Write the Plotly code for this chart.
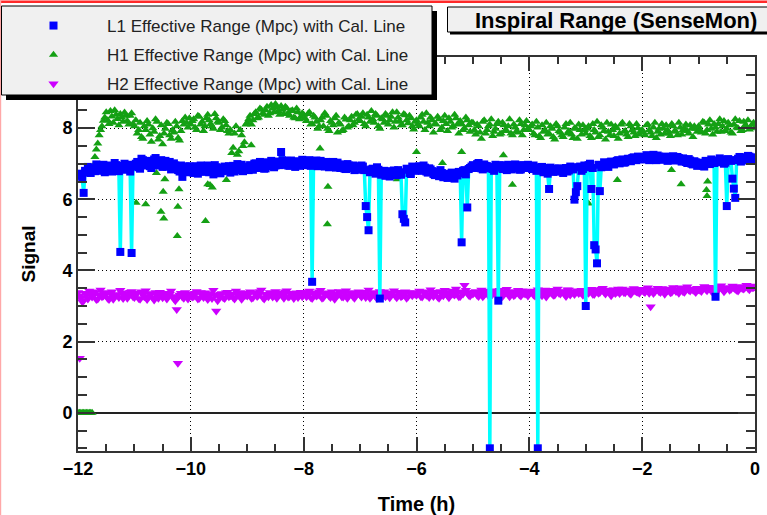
import numpy as np
import plotly.graph_objects as go

# ---------------- data ----------------
# sample times (h): main samples every 0.05 h, secondary samples in between
TIME_A = np.round(np.arange(-12.0, 0.0001, 0.05), 3)
TIME_B = np.round(np.arange(-11.975, 0.0, 0.05), 3)

L1_A = [
    6.66, 6.72, 6.18, 6.75, 6.82, 6.88, 6.79, 6.93, 6.85, 6.97, 6.84, 6.91, 6.78, 7.02, 6.88, 4.52, 6.94, 6.83, 6.97, 4.49,
    6.92, 7.05, 6.86, 7.10, 6.95, 7.02, 6.88, 7.12, 6.98, 7.06, 6.91, 7.08, 6.96, 6.84, 7.01, 6.89, 6.78, 6.63, 6.92, 6.80,
    6.86, 6.74, 6.93, 6.81, 6.88, 6.77, 6.95, 6.83, 6.70, 6.90, 6.84, 6.79, 6.92, 6.86, 6.75, 6.94, 6.88, 6.82, 6.97, 6.85,
    6.89, 6.96, 6.83, 7.01, 6.90, 6.98, 6.86, 7.04, 6.93, 6.99, 6.95, 7.06, 7.33, 6.97, 7.08, 6.94, 7.03, 6.91, 7.07, 7.00,
    7.04, 6.96, 7.10, 3.68, 7.02, 6.93, 7.08, 6.98, 7.05, 6.90, 6.99, 6.94, 7.03, 6.88, 6.97, 6.85, 6.95, 6.90, 6.82, 6.93,
    6.86, 6.92, 5.81, 5.13, 6.84, 6.78, 6.90, 3.21, 6.74, 6.66, 6.79, 6.70, 6.81, 6.68, 6.76, 5.58, 5.35, 6.83, 6.71, 6.88,
    6.86, 6.93, 6.80, 6.89, 6.75, 6.84, 6.71, 6.78, 6.65, 6.74, 6.68, 6.60, 6.72, 6.63, 6.70, 6.77, 4.79, 6.82, 5.77, 6.88,
    6.96, 6.90, 7.02, 6.87, 6.98, 6.93, -1.00, 6.85, 6.97, 3.15, 6.89, 6.95, 6.82, 6.92, 6.86, 6.98, 6.90, 6.84, 6.95, 6.88,
    6.93, 6.85, 6.90, -1.00, 6.82, 6.76, 6.88, 6.29, 6.80, 6.86, 6.78, 6.84, 6.74, 6.88, 6.81, 6.90, 5.99, 6.37, 6.92, 6.85,
    3.00, 6.96, 6.29, 4.71, 4.20, 6.23, 6.95, 7.02, 6.91, 7.06, 6.98, 7.08, 7.01, 7.12, 7.04, 7.14, 7.07, 7.18, 7.10, 7.15,
    7.19, 7.12, 7.22, 7.15, 7.25, 7.10, 7.20, 7.13, 7.17, 7.08, 7.15, 7.21, 7.11, 7.16, 7.06, 7.12, 7.02, 7.09, 6.98, 7.04,
    6.96, 7.03, 6.92, 7.06, 6.99, 7.08, 3.26, 7.04, 7.12, 7.00, 5.81, 7.10, 6.58, 6.04, 7.14, 7.06, 7.18, 7.09, 7.20, 7.12,
    7.15,
]
L1_B = [
    6.70, 6.58, 6.80, 6.91, 6.74, 6.86, 6.98, 6.80, 6.92, 6.76, 6.95, 6.87, 6.81, 6.96, 6.79, 6.90, 7.00, 6.86, 6.78, 6.95,
    7.00, 6.90, 7.14, 6.97, 7.08, 6.93, 7.04, 7.16, 6.95, 7.10, 7.00, 6.92, 7.05, 6.90, 6.95, 6.82, 6.95, 6.85, 6.76, 6.93,
    6.78, 6.90, 6.72, 6.95, 6.85, 6.91, 6.76, 6.88, 6.96, 6.80, 6.73, 6.89, 6.80, 6.93, 6.84, 6.78, 6.99, 6.87, 6.79, 6.92,
    6.82, 6.93, 7.00, 6.88, 7.05, 6.94, 6.87, 6.99, 7.08, 6.90, 7.02, 6.96, 7.10, 7.02, 6.95, 7.09, 6.97, 7.05, 6.94, 7.11,
    6.99, 7.07, 6.94, 7.00, 7.09, 6.97, 7.03, 6.92, 7.01, 6.96, 7.05, 6.89, 6.98, 6.93, 6.86, 6.99, 6.87, 6.95, 6.89, 6.83,
    6.95, 6.82, 5.50, 6.76, 6.86, 6.72, 6.83, 6.69, 6.80, 6.75, 6.64, 6.77, 6.73, 6.82, 6.69, 5.45, 6.86, 6.74, 6.92, 6.80,
    6.90, 6.82, 6.95, 6.78, 6.87, 6.79, 6.68, 6.73, 6.82, 6.62, 6.71, 6.66, 6.75, 6.58, 6.67, 6.73, 6.80, 6.70, 6.85, 6.92,
    6.88, 6.99, 6.92, 6.84, 6.94, 6.87, 6.91, 6.80, 6.90, 6.96, 6.85, 6.91, 6.97, 6.84, 6.93, 6.88, 6.83, 6.96, 6.90, 6.97,
    6.88, 6.95, 6.80, 6.86, 6.91, 6.83, 6.72, 6.89, 6.77, 6.83, 6.87, 6.79, 6.85, 6.78, 6.92, 6.84, 6.20, 6.90, 6.80, 6.95,
    6.90, 7.00, 6.88, 4.59, 6.97, 6.90, 7.04, 6.96, 7.03, 6.99, 7.05, 7.10, 7.06, 7.03, 7.11, 7.08, 7.16, 7.12, 7.20, 7.13,
    7.16, 7.24, 7.10, 7.19, 7.13, 7.23, 7.16, 7.11, 7.20, 7.14, 7.18, 7.09, 7.19, 7.10, 7.15, 7.05, 7.13, 7.00, 7.07, 6.94,
    7.01, 6.95, 7.08, 7.00, 7.12, 7.02, 7.09, 7.15, 7.06, 7.03, 7.13, 7.08, 6.30, 7.10, 7.19, 7.11, 7.16, 7.22, 7.14, 7.18,
]

H1_A = [
    0.00, 0.00, 0.00, 0.00, 0.00, 0.00, 7.19, 7.57, 7.95, 8.21, 8.45, 8.12, 8.33, 8.50, 8.26, 8.40, 8.18, 8.35, 8.10, 8.42,
    8.05, 7.85, 8.15, 7.70, 7.95, 8.10, 7.62, 7.90, 8.18, 7.78, 7.55, 7.98, 8.12, 7.70, 7.88, 8.05, 7.65, 8.20, 8.30, 8.02,
    8.10, 8.25, 7.95, 8.32, 8.18, 8.05, 8.38, 8.12, 7.98, 8.28, 8.15, 8.02, 8.20, 7.92, 7.95, 7.45, 8.05, 7.35, 7.80, 7.60,
    8.15, 8.35, 8.22, 8.45, 8.30, 8.52, 8.38, 8.60, 8.42, 8.55, 8.68, 8.48, 8.62, 8.40, 8.56, 8.35, 8.50, 8.28, 8.45, 8.32,
    8.38, 8.20, 8.45, 8.12, 8.30, 7.98, 8.22, 8.05, 8.35, 7.92, 8.15, 8.28, 7.88, 8.10, 7.95, 8.24, 8.05, 8.32, 8.15, 8.40,
    8.20, 8.42, 8.05, 8.30, 8.48, 8.15, 8.35, 7.98, 8.25, 8.40, 8.10, 8.32, 8.02, 8.45, 8.20, 8.08, 8.36, 8.14, 8.28, 7.96,
    8.22, 8.05, 8.38, 7.95, 8.15, 8.30, 7.88, 8.10, 8.25, 8.02, 8.35, 7.92, 8.18, 8.05, 8.28, 7.85, 8.12, 8.00, 8.22, 7.90,
    8.15, 7.82, 8.05, 7.70, 8.22, 7.95, 8.10, 7.78, 7.98, 8.18, 7.85, 8.08, 7.92, 8.25, 7.80, 8.02, 7.88, 8.12, 7.95, 8.20,
    7.95, 8.10, 7.80, 8.02, 7.72, 7.90, 8.15, 7.85, 7.98, 7.68, 8.05, 7.88, 7.75, 8.12, 7.92, 7.82, 8.00, 7.70, 7.95, 8.08,
    7.85, 8.05, 7.72, 7.95, 8.18, 7.80, 8.02, 7.68, 7.90, 8.10, 7.78, 8.00, 7.85, 8.15, 7.92, 7.75, 8.05, 7.88, 8.12, 7.82,
    7.95, 7.80, 8.10, 7.88, 8.02, 7.72, 7.98, 8.12, 7.85, 7.95, 7.78, 8.05, 7.90, 8.15, 7.82, 8.00, 7.92, 8.08, 7.75, 7.98,
    8.05, 7.88, 8.15, 7.95, 8.22, 7.82, 8.02, 8.12, 7.90, 8.20, 7.98, 8.08, 7.85, 8.25, 8.00, 7.92, 8.18, 8.05, 7.96, 8.10,
    8.02,
]
H1_B = [
    0.00, 0.00, 0.00, 0.00, 0.00, 6.95, 7.40, 7.80, 8.05, 8.30, 8.22, 8.48, 8.15, 8.38, 8.08, 8.30, 8.44, 8.20, 8.35, 8.12,
    8.22, 7.95, 7.75, 8.05, 8.20, 7.82, 8.00, 8.25, 7.68, 8.08, 7.85, 8.15, 7.80, 7.95, 8.18, 7.72, 7.92, 8.10, 8.15, 8.28,
    8.20, 8.02, 8.35, 8.10, 7.92, 8.28, 8.22, 8.05, 8.40, 8.18, 7.95, 8.25, 8.08, 7.85, 7.30, 7.85, 7.25, 7.95, 7.50, 8.10,
    8.25, 8.10, 8.40, 8.28, 8.55, 8.42, 8.50, 8.35, 8.65, 8.45, 8.58, 8.38, 8.52, 8.60, 8.42, 8.48, 8.30, 8.55, 8.25, 8.42,
    8.28, 8.40, 8.10, 8.35, 8.18, 8.05, 8.30, 8.42, 7.98, 8.20, 8.08, 8.35, 8.15, 7.92, 8.30, 8.02, 8.22, 8.08, 8.38, 8.25,
    8.32, 8.12, 8.38, 8.18, 8.25, 8.40, 8.05, 8.28, 8.15, 8.35, 8.22, 8.45, 8.18, 8.30, 8.08, 8.40, 8.22, 8.35, 8.05, 8.18,
    8.12, 8.30, 8.18, 8.42, 8.05, 8.22, 8.12, 8.32, 7.95, 8.20, 8.12, 8.28, 8.02, 8.38, 8.10, 8.20, 7.95, 8.30, 8.08, 8.15,
    7.95, 8.10, 7.88, 8.18, 7.85, 8.05, 8.25, 7.90, 8.12, 7.82, 8.15, 7.95, 8.05, 7.85, 8.10, 7.92, 8.22, 7.80, 8.08, 7.98,
    8.05, 7.85, 8.18, 7.78, 8.08, 7.95, 7.82, 8.05, 7.75, 8.12, 7.92, 7.80, 8.02, 7.85, 8.15, 7.72, 7.98, 8.10, 7.82, 7.95,
    7.98, 7.78, 8.12, 7.88, 7.75, 8.08, 7.92, 8.15, 7.80, 7.95, 8.05, 7.70, 8.10, 7.90, 7.82, 8.12, 7.95, 7.78, 8.00, 7.92,
    7.88, 8.08, 7.95, 7.78, 8.15, 7.90, 7.82, 8.00, 8.08, 7.85, 8.12, 7.92, 7.80, 8.02, 7.95, 8.10, 7.85, 7.98, 8.05, 7.90,
    7.95, 8.18, 7.85, 8.10, 7.98, 8.12, 7.90, 8.25, 8.05, 7.92, 8.15, 7.88, 8.10, 8.02, 8.20, 7.95, 8.08, 8.22, 8.00, 8.15,
]
# extra H1 low readings (time h, value)
H1_OUT_T = [-10.97, -10.80, -10.61, -10.53, -10.49, -10.48, -10.46, -10.41, -10.24, -10.23, -10.21,
            -9.74, -9.70, -9.66, -9.62, -9.37, -8.93, -7.71, -7.57, -7.58, -6.34, -6.00, -5.54,
            -5.20, -4.46, -4.30, -2.95, -2.44, -1.48, -1.31, -0.86, -0.85, -0.84]
H1_OUT_V = [5.90, 5.86, 6.74, 5.65, 6.21, 5.46, 6.56, 6.96, 4.97, 5.79, 6.28,
            5.39, 6.42, 6.40, 6.33, 6.54, 7.52, 7.43, 6.35, 5.30, 6.56, 7.33, 7.02,
            7.33, 7.24, 6.41, 5.88, 6.54, 6.82, 6.42, 6.26, 6.09, 6.50]

H2_A = [
    3.38, 3.22, 3.15, 3.30, 3.42, 3.25, 3.36, 3.20, 3.45, 3.28, 3.34, 3.18, 3.40, 3.26, 3.32, 3.44, 3.21, 3.35, 3.29, 3.41,
    3.24, 3.37, 3.19, 3.33, 3.43, 3.27, 3.35, 3.17, 3.30, 3.39, 3.23, 3.36, 3.28, 3.42, 3.21, 2.90, 3.31, 3.25, 3.38, 3.20,
    3.34, 3.27, 3.41, 3.22, 3.30, 3.37, 3.18, 3.33, 3.44, 2.86, 3.26, 3.35, 3.21, 3.39, 3.29, 3.24, 3.42, 3.31, 3.19, 3.36,
    3.28, 3.40, 3.23, 3.35, 3.30, 3.45, 3.20, 3.32, 3.38, 3.25, 3.41, 3.29, 3.34, 3.22, 3.43, 3.27, 3.36, 3.31, 3.24, 3.39,
    3.33, 3.26, 3.42, 3.21, 3.37, 3.30, 3.44, 3.24, 3.35, 3.28, 3.40, 3.19, 3.32, 3.38, 3.25, 3.43, 3.29, 3.34, 3.22, 3.36,
    3.31, 3.39, 3.24, 3.45, 3.28, 3.35, 3.21, 3.41, 3.30, 3.26, 3.37, 3.33, 3.43, 3.23, 3.36, 3.29, 3.40, 3.27, 3.34, 3.38,
    3.30, 3.42, 3.25, 3.36, 3.31, 3.46, 3.27, 3.39, 3.22, 3.35, 3.44, 3.29, 3.37, 3.33, 3.48, 3.26, 3.40, 3.58, 3.38, 3.28,
    3.34, 3.41, 3.27, 3.45, 3.31, 3.37, 3.24, 3.43, 3.35, 3.29, 3.40, 3.33, 3.47, 3.26, 3.38, 3.32, 3.44, 3.28, 3.36, 3.41,
    3.35, 3.42, 3.28, 3.46, 3.33, 3.39, 3.25, 3.44, 3.36, 3.31, 3.48, 3.34, 3.40, 3.27, 3.45, 3.37, 3.32, 3.43, 3.38, 3.30,
    3.41, 3.36, 3.47, 3.32, 3.44, 3.38, 3.50, 3.34, 3.42, 3.29, 3.46, 3.39, 3.35, 3.48, 3.37, 3.43, 3.33, 3.49, 3.40, 3.36,
    3.44, 3.38, 3.51, 2.98, 3.35, 3.46, 3.40, 3.49, 3.33, 3.43, 3.37, 3.52, 3.41, 3.36, 3.47, 3.39, 3.54, 3.42, 3.45, 3.38,
    3.46, 3.41, 3.55, 3.43, 3.49, 3.38, 3.52, 3.45, 3.57, 3.40, 3.50, 3.44, 3.56, 3.47, 3.42, 3.53, 3.48, 3.58, 3.46, 3.51,
    3.55,
]
H2_B = [
    3.28, 3.12, 3.36, 3.20, 3.33, 3.40, 3.18, 3.30, 3.26, 3.38, 3.22, 3.35, 3.19, 3.31, 3.24, 3.37, 3.28, 3.22, 3.39, 3.26,
    3.32, 3.21, 3.40, 3.26, 3.18, 3.34, 3.24, 3.38, 3.22, 3.31, 3.36, 3.20, 3.33, 3.27, 3.15, 3.25, 3.36, 3.22, 3.29, 3.34,
    3.25, 3.36, 3.20, 3.38, 3.24, 3.29, 3.35, 3.21, 3.30, 3.15, 3.33, 3.23, 3.37, 3.26, 3.34, 3.20, 3.31, 3.38, 3.25, 3.30,
    3.35, 3.22, 3.38, 3.27, 3.41, 3.24, 3.33, 3.26, 3.36, 3.30, 3.22, 3.37, 3.28, 3.40, 3.25, 3.33, 3.21, 3.37, 3.30, 3.26,
    3.38, 3.30, 3.24, 3.35, 3.28, 3.40, 3.22, 3.32, 3.37, 3.24, 3.33, 3.28, 3.41, 3.26, 3.35, 3.22, 3.38, 3.27, 3.31, 3.40,
    3.25, 3.35, 3.30, 3.22, 3.38, 3.27, 3.34, 3.24, 3.40, 3.31, 3.23, 3.36, 3.28, 3.39, 3.26, 3.33, 3.22, 3.37, 3.29, 3.33,
    3.36, 3.27, 3.40, 3.30, 3.24, 3.37, 3.33, 3.25, 3.41, 3.29, 3.36, 3.23, 3.42, 3.31, 3.38, 3.27, 3.34, 3.44, 3.30, 3.36,
    3.39, 3.30, 3.36, 3.26, 3.42, 3.34, 3.29, 3.39, 3.31, 3.44, 3.27, 3.37, 3.33, 3.41, 3.29, 3.38, 3.31, 3.43, 3.34, 3.28,
    3.40, 3.31, 3.37, 3.42, 3.29, 3.45, 3.34, 3.39, 3.30, 3.43, 3.36, 3.41, 3.33, 3.46, 3.31, 3.40, 3.38, 3.35, 3.44, 3.37,
    3.38, 3.44, 3.33, 3.40, 3.36, 3.47, 3.39, 3.45, 3.37, 3.43, 3.35, 3.48, 3.41, 3.38, 3.44, 3.36, 3.46, 3.42, 3.39, 3.47,
    3.41, 3.47, 3.36, 3.44, 3.40, 3.50, 3.38, 3.45, 3.42, 3.48, 3.39, 3.46, 3.44, 3.51, 3.40, 3.49, 3.45, 3.48, 3.42, 3.50,
    3.44, 3.50, 3.47, 3.53, 3.42, 3.49, 3.46, 3.54, 3.48, 3.45, 3.52, 3.47, 3.51, 3.44, 3.55, 3.49, 3.53, 3.50, 3.56, 3.52,
]
H2_OUT_T = [-11.97, -10.23]
H2_OUT_V = [1.53, 1.39]

NAMES = ["L1 Effective Range (Mpc) with Cal. Line",
         "H1 Effective Range (Mpc) with Cal. Line",
         "H2 Effective Range (Mpc) with Cal. Line"]
TITLE = "Inspiral Range (SenseMon)"
X_TITLE = "Time (h)"
Y_TITLE = "Signal"
X_TICKS = [-12, -10, -8, -6, -4, -2, 0]
Y_TICKS = [0, 2, 4, 6, 8]

# ---------------- styles ----------------
FONT = "Liberation Sans, Arial, Helvetica, sans-serif"
BLUE = "#0000ff"
CYAN = "#00ffff"
GREEN = "#14a014"
MAGENTA = "#cc00ff"

W, H = 767, 515
ML, MR, MT, MB = 78, 12, 57, 64
PW, PH = W - ML - MR, H - MT - MB


def px(x):
    return (x - ML) / PW


def py(y):
    return (H - MB - y) / PH


# merge the two sampling sets in time order
l1_t = np.concatenate([TIME_A, TIME_B])
l1_v = np.concatenate([L1_A, L1_B])
order = np.argsort(l1_t, kind="stable")
l1_t, l1_v = l1_t[order], l1_v[order]

h1_t = np.concatenate([TIME_A, TIME_B, H1_OUT_T])
h1_v = np.concatenate([H1_A, H1_B, H1_OUT_V])
h2_t = np.concatenate([TIME_A, TIME_B, H2_OUT_T])
h2_v = np.concatenate([H2_A, H2_B, H2_OUT_V])

fig = go.Figure()
fig.add_trace(go.Scatter(x=h2_t, y=h2_v, mode="markers", name=NAMES[2], legendrank=3,
                         legendgroup="h2",
                         marker=dict(symbol="triangle-down", size=9, color=MAGENTA, line=dict(width=0))))
fig.add_trace(go.Scatter(x=h1_t, y=h1_v, mode="markers", name=NAMES[1], legendrank=2,
                         legendgroup="h1",
                         marker=dict(symbol="triangle-up", size=8, color=GREEN, line=dict(width=0))))
fig.add_trace(go.Scatter(x=l1_t, y=l1_v, mode="lines", showlegend=False,
                         line=dict(color=CYAN, width=3.5)))
fig.add_trace(go.Scatter(x=l1_t, y=l1_v, mode="markers", name=NAMES[0], legendrank=1,
                         legendgroup="l1",
                         marker=dict(symbol="square", size=8, color=BLUE, line=dict(width=0))))

axis_common = dict(
    showline=True, linecolor="#333333", linewidth=2, mirror="ticks",
    ticks="inside", tickcolor="#333333", tickwidth=1.5,
    showgrid=True, gridcolor="black", gridwidth=1, griddash="1px,3px",
    tickfont=dict(family=FONT, size=18, color="black", weight="bold"),
)

fig.update_xaxes(range=[-12, 0], tickvals=X_TICKS, ticklen=14, zeroline=False,
                 minor=dict(ticks="inside", dtick=0.5, tick0=0, ticklen=7,
                            tickcolor="#333333", tickwidth=1.5, showgrid=False),
                 title=dict(text=X_TITLE, standoff=19,
                            font=dict(family=FONT, size=20, color="black", weight="bold")),
                 **axis_common)
fig.update_yaxes(range=[-1.076, 10.0], tickvals=Y_TICKS, ticklen=17,
                 zeroline=True, zerolinecolor="#222222", zerolinewidth=1.5,
                 minor=dict(ticks="inside", dtick=0.5, tick0=0, ticklen=9,
                            tickcolor="#333333", tickwidth=1.5, showgrid=False),
                 title=dict(text=Y_TITLE, standoff=22,
                            font=dict(family=FONT, size=19, color="black", weight="bold")),
                 **axis_common)

shapes = [
    # page edges
    dict(type="rect", xref="paper", yref="paper", x0=px(0), x1=px(W), y0=py(3), y1=py(0.5),
         fillcolor="#ff2a2a", line=dict(width=0), layer="above"),
    dict(type="rect", xref="paper", yref="paper", x0=px(0), x1=px(1.2), y0=py(H), y1=py(0),
         fillcolor="#ffa8a8", line=dict(width=0), layer="above"),
    # legend box with shadow
    dict(type="rect", xref="paper", yref="paper", x0=px(6), x1=px(437), y0=py(100), y1=py(11),
         fillcolor="black", line=dict(width=0), layer="above"),
    dict(type="rect", xref="paper", yref="paper", x0=px(1.5), x1=px(432), y0=py(95), y1=py(6),
         fillcolor="#f0f0f0", line=dict(color="black", width=1), layer="above"),
    # title box with shadow
    dict(type="rect", xref="paper", yref="paper", x0=px(450), x1=px(W + 20), y0=py(34.5), y1=py(10),
         fillcolor="black", line=dict(width=0), layer="above"),
    dict(type="rect", xref="paper", yref="paper", x0=px(447.5), x1=px(W + 20), y0=py(32), y1=py(7),
         fillcolor="#f0f0f0", line=dict(color="black", width=1), layer="above"),
]

fig.update_layout(
    width=W, height=H,
    margin=dict(l=ML, r=MR, t=MT, b=MB, autoexpand=False),
    paper_bgcolor="white", plot_bgcolor="white",
    font=dict(family=FONT, color="black"),
    shapes=shapes,
    showlegend=True,
    legend=dict(x=px(0), y=py(8), xanchor="left", yanchor="top",
                bgcolor="rgba(0,0,0,0)", borderwidth=0,
                itemwidth=97, tracegroupgap=4,
                font=dict(family=FONT, size=17, color="#222222")),
    annotations=[dict(text=TITLE, xref="paper", yref="paper", x=px(616), y=py(20),
                      xanchor="center", yanchor="middle", showarrow=False,
                      font=dict(family=FONT, size=22, color="black", weight="bold"))],
)

fig.write_html("out.html",
               config={"displayModeBar": False},
               post_script="document.body.style.margin='0';document.body.style.overflow='hidden';")
